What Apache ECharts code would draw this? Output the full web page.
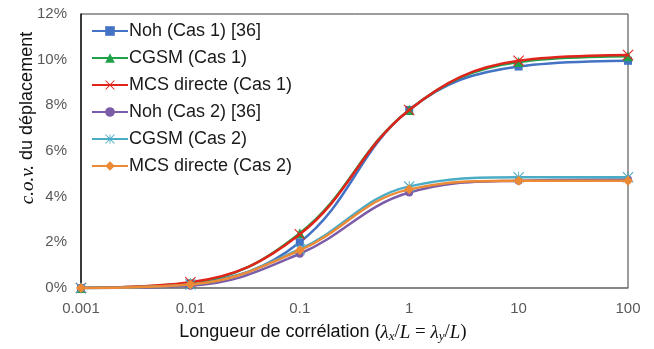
<!DOCTYPE html>
<html>
<head>
<meta charset="utf-8">
<script src="https://cdn.jsdelivr.net/npm/echarts@6/dist/echarts.min.js"></script>
<style>
html,body{margin:0;padding:0;background:#fff;}
#chart{width:654px;height:349px;}
</style>
</head>
<body>
<div id="chart"></div>
<script>
// Correlation length (lambda_x / L)
var xValues = [0.001, 0.01, 0.1, 1, 10, 100];
var xTickLabels = ['0.001', '0.01', '0.1', '1', '10', '100'];
var yTicks = [0, 2, 4, 6, 8, 10, 12];

// c.o.v. du déplacement (%)
var nohCas1   = [0, 0.20, 2.00, 7.80, 9.70, 9.95];
var cgsmCas1  = [0, 0.22, 2.40, 7.80, 9.90, 10.15];
var mcsCas1   = [0, 0.25, 2.35, 7.80, 9.95, 10.20];
var nohCas2   = [0, 0.10, 1.50, 4.18, 4.70, 4.75];
var cgsmCas2  = [0, 0.15, 1.70, 4.45, 4.85, 4.85];
var mcsCas2   = [0, 0.15, 1.65, 4.32, 4.70, 4.70];

var seriesNames = ['Noh (Cas 1) [36]', 'CGSM (Cas 1)', 'MCS directe (Cas 1)',
                   'Noh (Cas 2) [36]', 'CGSM (Cas 2)', 'MCS directe (Cas 2)'];
var seriesData = [nohCas1, cgsmCas1, mcsCas1, nohCas2, cgsmCas2, mcsCas2];
var colors = ['#4472c4', '#1fa24a', '#e0241b', '#7a5ca8', '#4bacc6', '#ed8a35'];

var xSym = 'path://M0,1.4 L1.4,0 L10,8.6 L18.6,0 L20,1.4 L11.4,10 L20,18.6 L18.6,20 L10,11.4 L1.4,20 L0,18.6 L8.6,10 Z';
var starSym = 'path://M0,1.4 L1.4,0 L10,8.6 L18.6,0 L20,1.4 L11.4,10 L20,18.6 L18.6,20 L10,11.4 L1.4,20 L0,18.6 L8.6,10 Z M9.2,0 L10.8,0 L10.8,20 L9.2,20 Z';
var symbols = ['rect', 'triangle', xSym, 'circle', starSym, 'diamond'];
var symbolSizes = [8, 10, 11, 8, 11, 10];

function pairs(arr) {
  return xValues.map(function (x, i) { return [x, arr[i]]; });
}

var series = seriesNames.map(function (name, k) {
  return {
    name: name,
    type: 'line',
    smooth: 0.4,
    data: pairs(seriesData[k]),
    symbol: symbols[k],
    symbolSize: symbolSizes[k],
    showAllSymbol: true,
    lineStyle: { color: colors[k], width: 2.5 },
    itemStyle: { color: colors[k] },
    z: 2 + k
  };
});

var chart = echarts.init(document.getElementById('chart'), null, { renderer: 'canvas' });
chart.setOption({
  animation: false,
  backgroundColor: '#ffffff',
  textStyle: { fontFamily: 'Liberation Sans, Arial, sans-serif' },
  grid: {
    left: 81, right: 26, top: 14, bottom: 61,
    show: true, borderColor: '#3a3a3a', borderWidth: 1, backgroundColor: 'transparent'
  },
  legend: {
    orient: 'vertical',
    left: 86, top: 17,
    itemWidth: 36, itemHeight: 12, itemGap: 9,
    textStyle: { fontSize: 18, color: '#1a1a1a', fontFamily: 'Liberation Sans, Arial, sans-serif', padding: [0, 0, 0, -4] },
    data: seriesNames
  },
  xAxis: {
    type: 'log',
    logBase: 10,
    min: xValues[0],
    max: xValues[xValues.length - 1],
    axisLine: { show: true, lineStyle: { color: '#7f7f7f', width: 1.5 } },
    axisTick: { show: false },
    splitLine: { show: false },
    axisLabel: {
      fontSize: 15, color: '#595959', margin: 13,
      formatter: function (v) {
        for (var i = 0; i < xValues.length; i++) {
          if (Math.abs(Math.log10(v) - Math.log10(xValues[i])) < 1e-6) return xTickLabels[i];
        }
        return '';
      }
    },
    nameLocation: 'middle',
    nameGap: 34,
    nameMoveOverlap: false,
    name: 'Longueur de corrélation ({m|λ}{s|x}{n|/}{m|L}{n| = }{m|λ}{s|y}{n|/}{m|L}{n|)}',
    nameTextStyle: {
      fontSize: 18, color: '#111',
      padding: [0, 63, 0, 0],
      rich: {
        m: { fontSize: 19, fontStyle: 'italic', fontFamily: 'Liberation Serif, DejaVu Serif, serif', color: '#111' },
        n: { fontSize: 19, fontFamily: 'Liberation Serif, DejaVu Serif, serif', color: '#111' },
        s: { fontSize: 13, fontStyle: 'italic', fontFamily: 'Liberation Serif, DejaVu Serif, serif', color: '#111', verticalAlign: 'bottom', padding: [8, 0, 0, 0] }
      }
    }
  },
  yAxis: {
    type: 'value',
    min: yTicks[0],
    max: yTicks[yTicks.length - 1],
    interval: 2,
    axisLine: { show: true, lineStyle: { color: '#1a1a1a', width: 1.5 } },
    axisTick: { show: false },
    splitLine: { show: false },
    axisLabel: { fontSize: 15, color: '#595959', margin: 14, formatter: '{value}%' },
    nameLocation: 'middle',
    nameGap: 44,
    nameMoveOverlap: false,
    name: '{i|c.o.v.} du déplacement',
    nameTextStyle: {
      fontSize: 18, color: '#111',
      padding: [0, 0, 0, 66],
      rich: {
        i: { fontSize: 19, fontStyle: 'italic', fontFamily: 'Liberation Serif, DejaVu Serif, serif', color: '#111' }
      }
    }
  },
  series: series
});
</script>
</body>
</html>
